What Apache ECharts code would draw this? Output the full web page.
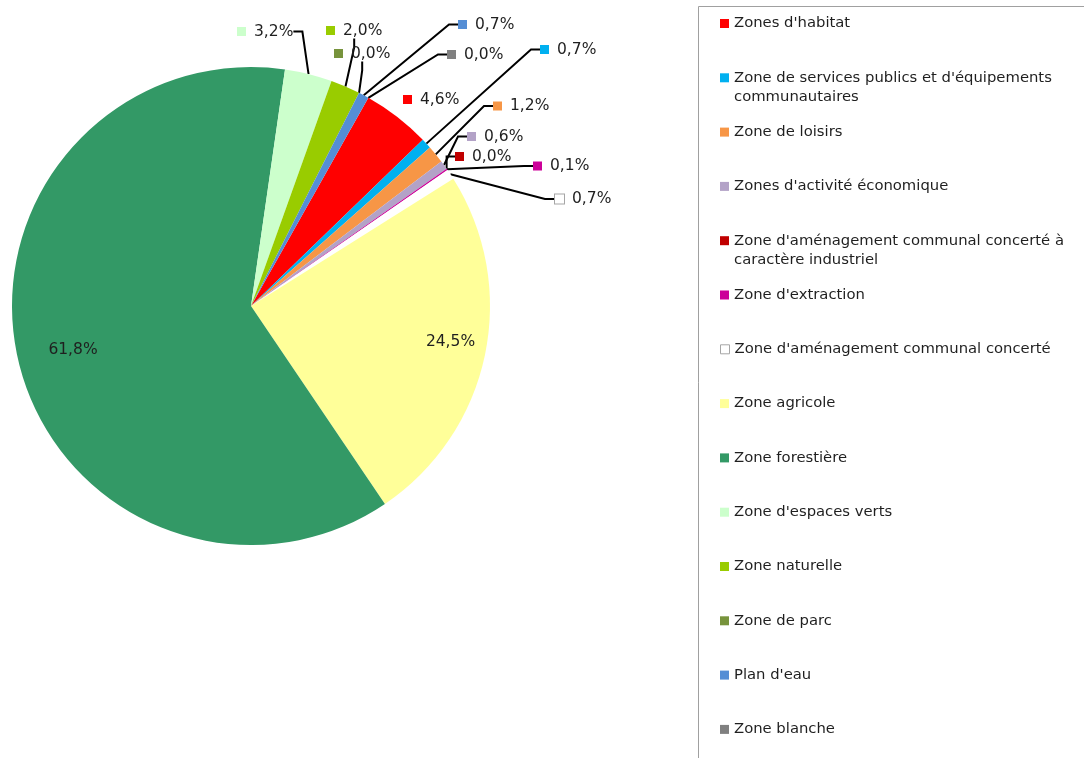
<!DOCTYPE html>
<html><head><meta charset="utf-8">
<script src="https://cdn.jsdelivr.net/npm/echarts@6/dist/echarts.min.js"></script>
<style>html,body{margin:0;padding:0;background:#fff}#c{width:1084px;height:758px}</style>
</head><body><div id="c"></div>
<script>
// ---- data ----
const categories = [
  "Zones d'habitat",
  "Zone de services publics et d'équipements communautaires",
  "Zone de loisirs",
  "Zones d'activité économique",
  "Zone d'aménagement communal concerté à caractère industriel",
  "Zone d'extraction",
  "Zone d'aménagement communal concerté",
  "Zone agricole",
  "Zone forestière",
  "Zone d'espaces verts",
  "Zone naturelle",
  "Zone de parc",
  "Plan d'eau",
  "Zone blanche"
];
const values = [4.6, 0.7, 1.2, 0.6, 0.0, 0.1, 0.7, 24.5, 61.8, 3.2, 2.0, 0.0, 0.7, 0.0];
const colors = ["#FF0000", "#00B0F0", "#F79646", "#B3A2C7", "#C00000", "#CC0099", "#FFFFFF",
                "#FFFF99", "#339966", "#CCFFCC", "#99CC00", "#77933C", "#558ED5", "#808080"];
const legendLines = [
  ["Zones d'habitat"],
  ["Zone de services publics et d'équipements", "communautaires"],
  ["Zone de loisirs"],
  ["Zones d'activité économique"],
  ["Zone d'aménagement communal concerté à", "caractère industriel"],
  ["Zone d'extraction"],
  ["Zone d'aménagement communal concerté"],
  ["Zone agricole"],
  ["Zone forestière"],
  ["Zone d'espaces verts"],
  ["Zone naturelle"],
  ["Zone de parc"],
  ["Plan d'eau"],
  ["Zone blanche"]
];

// ---- layout (label anchors, px) ----
const labelAt = [[403,99.5],[540,49.5],[493,106],[467,136.5],[455,156.5],[533,166],[555,199],
                 [450.5,341.5],[73,349.5],[237,31.5],[326,30.5],[334,53.5],[458,24.5],[447,54.5]];
const insideIdx = [7, 8];
const noLineIdx = [0, 7, 8];
const FONT = "'DejaVu Sans', Verdana, sans-serif";
const TXT = '#1f1f1f';

const fmt = v => v.toFixed(1).replace('.', ',') + '%';

const rich = { v: { fontSize: 15.5, fontFamily: FONT, color: TXT, padding: [0, 0, 0, 8] },
               c: { fontSize: 15.5, fontFamily: FONT, color: TXT } };
colors.forEach((c, i) => {
  rich['sq' + i] = { width: 9, height: 9, backgroundColor: c,
                     borderColor: c === '#FFFFFF' ? '#A6A6A6' : c, borderWidth: c === '#FFFFFF' ? 1 : 0 };
});

const legends = categories.map((name, i) => {
  const lines = legendLines[i];
  const twoLine = lines.length > 1;
  const iconCenter = 23.5 + 54.3 * i;
  // for two-line items a blank leading line keeps the first line level with the key
  const text = twoLine ? '\n' + lines.join('\n') : lines[0];
  return {
    orient: 'vertical', left: 720, top: iconCenter - (twoLine ? 28.5 : 9.5), padding: 0,
    itemWidth: 9, itemHeight: 9, icon: 'rect', selectedMode: false,
    formatter: () => text,
    textStyle: { fontSize: 14.8, fontFamily: FONT, color: TXT, lineHeight: 19 },
    data: [ colors[i] === '#FFFFFF'
      ? { name, itemStyle: { borderColor: '#A6A6A6', borderWidth: 1 } }
      : { name } ]
  };
});

const chart = echarts.init(document.getElementById('c'), null, { renderer: 'canvas' });
chart.setOption({
  backgroundColor: '#fff',
  animation: false,
  legend: legends,
  graphic: [{ type: 'rect', shape: { x: 698.5, y: 6.5, width: 500, height: 900 },
              style: { fill: 'none', stroke: '#A0A0A0', lineWidth: 1 }, silent: true }],
  series: [{
    type: 'pie',
    center: [251, 306],
    radius: 239,
    startAngle: 60.6,
    clockwise: true,
    avoidLabelOverlap: false,
    emphasis: { disabled: true },
    itemStyle: { borderWidth: 0 },
    label: {
      show: true, position: 'outside', rich,
      formatter: p => insideIdx.includes(p.dataIndex)
        ? '{c|' + fmt(p.value) + '}'
        : '{sq' + p.dataIndex + '|}{v|' + fmt(p.value) + '}'
    },
    labelLine: { show: true, length: 10, length2: 9, lineStyle: { color: '#000', width: 2 } },
    labelLayout: p => {
      const a = labelAt[p.dataIndex];
      const inside = insideIdx.includes(p.dataIndex);
      return { x: a[0], y: a[1], align: inside ? 'center' : 'left', verticalAlign: 'middle' };
    },
    data: categories.map((name, i) => ({
      name, value: values[i],
      itemStyle: { color: colors[i] },
      label: insideIdx.includes(i) ? { position: 'inside' } : undefined,
      labelLine: noLineIdx.includes(i) ? { show: false } : undefined
    }))
  }]
});
</script>
</body></html>
